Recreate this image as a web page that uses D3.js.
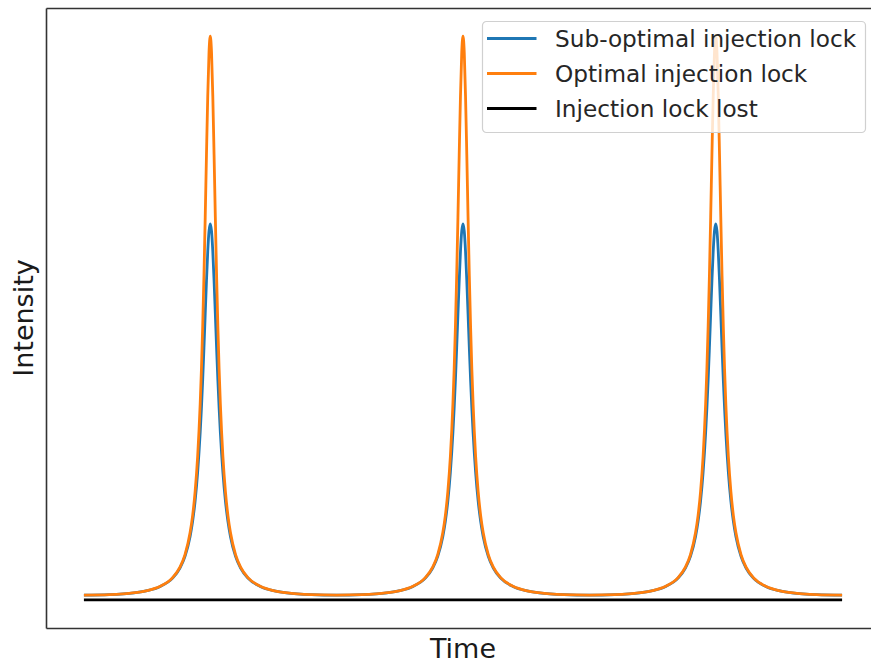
<!DOCTYPE html>
<html>
<head>
<meta charset="utf-8">
<script src="https://cdn.jsdelivr.net/npm/d3@7"></script>
<style>
  html, body { margin: 0; padding: 0; background: #fff; }
  svg { display: block; font-family: "DejaVu Sans", sans-serif; }
</style>
</head>
<body>
<div id="chart"></div>
<script>
// ---- data ----
const seriesNames = ["Sub-optimal injection lock", "Optimal injection lock", "Injection lock lost"];
const seriesColors = ["#1f77b4", "#ff7f0e", "#000000"];

const time = [
  0, 0.1, 0.2, 0.25, 0.3, 0.35, 0.38, 0.4, 0.42, 0.43, 0.44, 0.45, 0.46, 0.465, 0.47, 0.475, 0.48, 0.485, 0.49, 0.495,
  0.5, 0.505, 0.51, 0.515, 0.52, 0.525, 0.53, 0.535, 0.54, 0.55, 0.56, 0.57, 0.58, 0.6, 0.62, 0.65, 0.7, 0.75, 0.8, 0.9,
  1.0, 1.1, 1.2, 1.25, 1.3, 1.35, 1.38, 1.4, 1.42, 1.43, 1.44, 1.45, 1.46, 1.465, 1.47, 1.475, 1.48, 1.485, 1.49, 1.495,
  1.5, 1.505, 1.51, 1.515, 1.52, 1.525, 1.53, 1.535, 1.54, 1.55, 1.56, 1.57, 1.58, 1.6, 1.62, 1.65, 1.7, 1.75, 1.8, 1.9,
  2.0, 2.1, 2.2, 2.25, 2.3, 2.35, 2.38, 2.4, 2.42, 2.43, 2.44, 2.45, 2.46, 2.465, 2.47, 2.475, 2.48, 2.485, 2.49, 2.495,
  2.5, 2.505, 2.51, 2.515, 2.52, 2.525, 2.53, 2.535, 2.54, 2.55, 2.56, 2.57, 2.58, 2.6, 2.62, 2.65, 2.7, 2.75, 2.8, 2.9,
  3.0
];

const subOptimal = [
  0.0082, 0.0091, 0.0125, 0.0163, 0.0233, 0.0381, 0.0563, 0.0772, 0.112, 0.139, 0.175, 0.226, 0.296, 0.340, 0.390, 0.447, 0.507, 0.566, 0.618, 0.654,
  0.667, 0.654, 0.618, 0.566, 0.507, 0.447, 0.390, 0.340, 0.296, 0.226, 0.175, 0.139, 0.112, 0.0772, 0.0563, 0.0381, 0.0233, 0.0163, 0.0125, 0.0091,
  0.0082, 0.0091, 0.0125, 0.0163, 0.0233, 0.0381, 0.0563, 0.0772, 0.112, 0.139, 0.175, 0.226, 0.296, 0.340, 0.390, 0.447, 0.507, 0.566, 0.618, 0.654,
  0.667, 0.654, 0.618, 0.566, 0.507, 0.447, 0.390, 0.340, 0.296, 0.226, 0.175, 0.139, 0.112, 0.0772, 0.0563, 0.0381, 0.0233, 0.0163, 0.0125, 0.0091,
  0.0082, 0.0091, 0.0125, 0.0163, 0.0233, 0.0381, 0.0563, 0.0772, 0.112, 0.139, 0.175, 0.226, 0.296, 0.340, 0.390, 0.447, 0.507, 0.566, 0.618, 0.654,
  0.667, 0.654, 0.618, 0.566, 0.507, 0.447, 0.390, 0.340, 0.296, 0.226, 0.175, 0.139, 0.112, 0.0772, 0.0563, 0.0381, 0.0233, 0.0163, 0.0125, 0.0091,
  0.0082
];

const optimal = [
  0.0083, 0.0091, 0.0126, 0.0164, 0.0236, 0.0389, 0.0579, 0.0803, 0.119, 0.149, 0.192, 0.254, 0.347, 0.409, 0.485, 0.575, 0.679, 0.790, 0.894, 0.971,
  1.0, 0.971, 0.894, 0.790, 0.679, 0.575, 0.485, 0.409, 0.347, 0.254, 0.192, 0.149, 0.119, 0.0803, 0.0579, 0.0389, 0.0236, 0.0164, 0.0126, 0.0091,
  0.0083, 0.0091, 0.0126, 0.0164, 0.0236, 0.0389, 0.0579, 0.0803, 0.119, 0.149, 0.192, 0.254, 0.347, 0.409, 0.485, 0.575, 0.679, 0.790, 0.894, 0.971,
  1.0, 0.971, 0.894, 0.790, 0.679, 0.575, 0.485, 0.409, 0.347, 0.254, 0.192, 0.149, 0.119, 0.0803, 0.0579, 0.0389, 0.0236, 0.0164, 0.0126, 0.0091,
  0.0083, 0.0091, 0.0126, 0.0164, 0.0236, 0.0389, 0.0579, 0.0803, 0.119, 0.149, 0.192, 0.254, 0.347, 0.409, 0.485, 0.575, 0.679, 0.790, 0.894, 0.971,
  1.0, 0.971, 0.894, 0.790, 0.679, 0.575, 0.485, 0.409, 0.347, 0.254, 0.192, 0.149, 0.119, 0.0803, 0.0579, 0.0389, 0.0236, 0.0164, 0.0126, 0.0091,
  0.0083
];

const lostTime = [0, 1, 2, 3];
const lost = [0, 0, 0, 0];

const xLabel = "Time";
const yLabel = "Intensity";

// ---- layout ----
const W = 871, H = 663;
const plot = { left: 46, right: 880, top: 8, bottom: 628 };

const svg = d3.select("#chart").append("svg")
  .attr("width", W).attr("height", H);

const x = d3.scaleLinear().domain([-0.15, 3.15]).range([plot.left, plot.right]);
const y = d3.scaleLinear().domain([-0.05, 1.05]).range([plot.bottom, plot.top]);

const line = d3.line()
  .x(d => x(d[0]))
  .y(d => y(d[1]))
  .curve(d3.curveMonotoneX);

const series = [
  time.map((t, i) => [t, subOptimal[i]]),
  time.map((t, i) => [t, optimal[i]]),
  lostTime.map((t, i) => [t, lost[i]])
];

const g = svg.append("g");
series.forEach((s, i) => {
  g.append("path")
    .datum(s)
    .attr("fill", "none")
    .attr("stroke", seriesColors[i])
    .attr("stroke-width", 2.8)
    .attr("stroke-linejoin", "round")
    .attr("stroke-linecap", "butt")
    .attr("d", line);
});

// axes frame (no ticks)
const xAxis = d3.axisBottom(x).tickValues([]).tickSize(0).tickSizeOuter(0);
const yAxis = d3.axisLeft(y).tickValues([]).tickSize(0).tickSizeOuter(0);
const xTop = d3.axisTop(x).tickValues([]).tickSize(0).tickSizeOuter(0);
const yRight = d3.axisRight(y).tickValues([]).tickSize(0).tickSizeOuter(0);
[[xAxis, `translate(0,${plot.bottom})`], [xTop, `translate(0,${plot.top})`],
 [yAxis, `translate(${plot.left},0)`], [yRight, `translate(${plot.right},0)`]].forEach(([ax, tr]) => {
  const a = svg.append("g").attr("transform", tr).call(ax);
  a.select(".domain").attr("stroke", "#333").attr("stroke-width", 1.6);
});

// axis labels
svg.append("text")
  .attr("x", (plot.left + plot.right) / 2)
  .attr("y", 658)
  .attr("text-anchor", "middle")
  .attr("font-size", 27)
  .attr("fill", "#1a1a1a")
  .text(xLabel);

svg.append("text")
  .attr("transform", `translate(32.5,${(plot.top + plot.bottom) / 2}) rotate(-90)`)
  .attr("text-anchor", "middle")
  .attr("font-size", 27)
  .attr("fill", "#1a1a1a")
  .text(yLabel);

// legend
const leg = svg.append("g").attr("transform", "translate(482.5,21.5)");
leg.append("rect")
  .attr("width", 383).attr("height", 111)
  .attr("rx", 4).attr("ry", 4)
  .attr("fill", "#ffffff").attr("fill-opacity", 0.8)
  .attr("stroke", "#d0d0d0").attr("stroke-width", 1.2);
seriesNames.forEach((name, i) => {
  const cy = 17 + i * 35;
  leg.append("line")
    .attr("x1", 4.5).attr("x2", 54)
    .attr("y1", cy).attr("y2", cy)
    .attr("stroke", seriesColors[i]).attr("stroke-width", 2.8);
  leg.append("text")
    .attr("x", 72.5).attr("y", cy + 8.5)
    .attr("font-size", 23.2)
    .attr("fill", "#262626")
    .text(name);
});
</script>
</body>
</html>
